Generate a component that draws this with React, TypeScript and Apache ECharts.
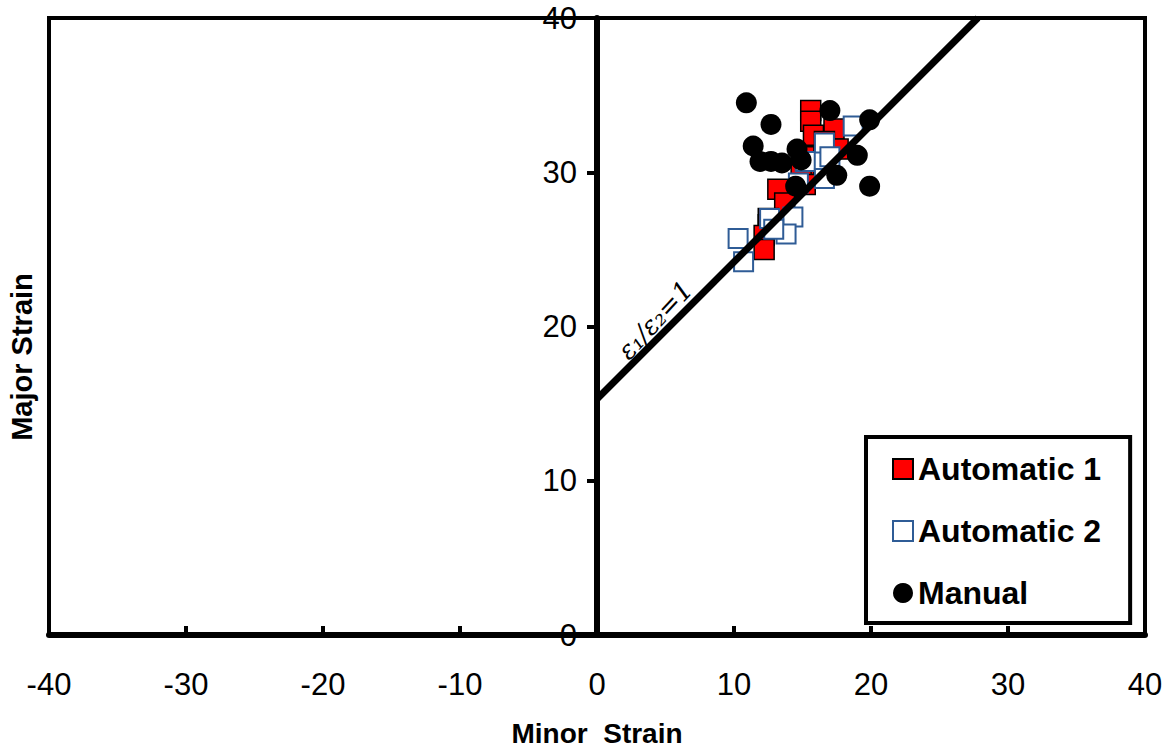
import React, { useEffect, useRef } from "react";
import * as echarts from "echarts";

const xTicks = { min: -40, max: 40, interval: 10 };
const yTicks = { min: 0, max: 40, interval: 10 };

const automatic1: number[][] = [
  [15.6, 34.0], [15.6, 33.3], [17.3, 32.8], [15.8, 32.4], [16.6, 32.0], [17.6, 31.5],
  [15.1, 31.0], [15.1, 30.5], [14.9, 30.3], [15.2, 29.2], [13.2, 28.9], [13.7, 28.0],
  [12.5, 27.0], [12.5, 26.6], [12.2, 25.9], [12.2, 25.0],
];
const automatic2: number[][] = [
  [18.7, 33.0], [16.6, 31.9], [17.0, 31.0], [15.2, 30.7], [16.6, 29.6], [14.7, 29.3],
  [14.3, 27.1], [12.6, 27.0], [13.8, 26.0], [12.9, 26.3], [10.3, 25.7], [10.7, 24.2],
];
const manual: number[][] = [
  [10.9, 34.5], [12.7, 33.1], [11.4, 31.7], [11.9, 30.7], [12.7, 30.7], [13.5, 30.6],
  [14.6, 31.5], [14.9, 30.8], [14.5, 29.1], [17.0, 34.0], [19.9, 33.4], [19.0, 31.1],
  [17.5, 29.8], [19.9, 29.1],
];
const ratioLine: number[][] = [[0, 15.3], [27.8, 40]];

const FONT = "'Liberation Sans', Arial, sans-serif";

const GRID_LEFT = 49;
const GRID_RIGHT = 29;
const CHART_W = 1174;

export default function App() {
  const ref = useRef<HTMLDivElement>(null);
  useEffect(() => {
    if (!ref.current) return;
    const chart = echarts.init(ref.current, null, { renderer: "svg" });
    const plotW = CHART_W - GRID_LEFT - GRID_RIGHT;
    const zeroOffset = (plotW * (0 - xTicks.min)) / (xTicks.max - xTicks.min);
    chart.setOption({
      animation: false,
      backgroundColor: "#fff",
      grid: {
        left: GRID_LEFT, right: GRID_RIGHT, top: 18, bottom: 114,
        show: true, borderColor: "#000", borderWidth: 4,
        containLabel: false, outerBoundsMode: "none",
      },
      xAxis: {
        type: "value", min: xTicks.min, max: xTicks.max, interval: xTicks.interval,
        name: "Minor  Strain", nameLocation: "middle", nameGap: 84,
        nameTextStyle: { fontFamily: FONT, fontSize: 28, fontWeight: "bold", color: "#000" },
        axisLine: { show: true, onZero: false, lineStyle: { color: "#000", width: 6 } },
        axisTick: { show: true, inside: true, length: 9, lineStyle: { color: "#000", width: 4 } },
        axisLabel: { margin: 34, fontFamily: FONT, fontSize: 31, color: "#000" },
        splitLine: { show: false },
      },
      yAxis: {
        type: "value", min: yTicks.min, max: yTicks.max, interval: yTicks.interval,
        position: "left", offset: -zeroOffset,
        axisLine: { show: true, onZero: false, lineStyle: { color: "#000", width: 6 } },
        axisTick: { show: true, inside: false, length: 10, lineStyle: { color: "#000", width: 4 } },
        axisLabel: { margin: 20, fontFamily: FONT, fontSize: 31, color: "#000" },
        splitLine: { show: false },
      },
      legend: {
        orient: "vertical", left: 866, top: 437,
        padding: [16, 29, 14, 26], itemGap: 30, itemWidth: 20, itemHeight: 20,
        borderColor: "#000", borderWidth: 4, backgroundColor: "#fff",
        textStyle: { fontFamily: FONT, fontSize: 32, fontWeight: "bold", color: "#000", lineHeight: 32 },
        data: ["Automatic 1", "Automatic 2", "Manual"],
      },
      graphic: [
        {
          type: "text", x: 22, y: 357, rotation: Math.PI / 2,
          style: {
            text: "Major Strain", fontFamily: FONT, fontSize: 29, fontWeight: "bold",
            fill: "#000", align: "center", verticalAlign: "middle",
          },
        },
        {
          type: "text", x: 655, y: 320, rotation: (47 * Math.PI) / 180,
          style: {
            text: "ε₁/ε₂=1",
            fontFamily: "'DejaVu Serif', serif", fontStyle: "italic", fontSize: 26, fill: "#000",
            align: "center", verticalAlign: "middle",
          },
        },
      ],
      series: [
        {
          name: "Automatic 1", type: "scatter", data: automatic1, symbol: "rect", symbolSize: 20,
          itemStyle: { color: "#FF0000", borderColor: "#000", borderWidth: 1.5, opacity: 1 },
          z: 2,
        },
        {
          name: "Automatic 2", type: "scatter", data: automatic2, symbol: "rect", symbolSize: 19,
          itemStyle: { color: "#FFFFFF", borderColor: "#2F5C96", borderWidth: 2, opacity: 1 },
          z: 3,
        },
        {
          name: "Manual", type: "scatter", data: manual, symbol: "circle", symbolSize: 21,
          itemStyle: { color: "#000", opacity: 1 },
          z: 4,
        },
        {
          name: "ratio", type: "line", data: ratioLine, showSymbol: false, symbol: "none",
          lineStyle: { color: "#000", width: 7 }, z: 5, silent: true,
        },
      ],
    });
    return () => chart.dispose();
  }, []);
  return (
    <div
      ref={ref}
      style={{ position: "fixed", left: 0, top: 0, width: CHART_W, height: 749, background: "#fff" }}
    />
  );
}
